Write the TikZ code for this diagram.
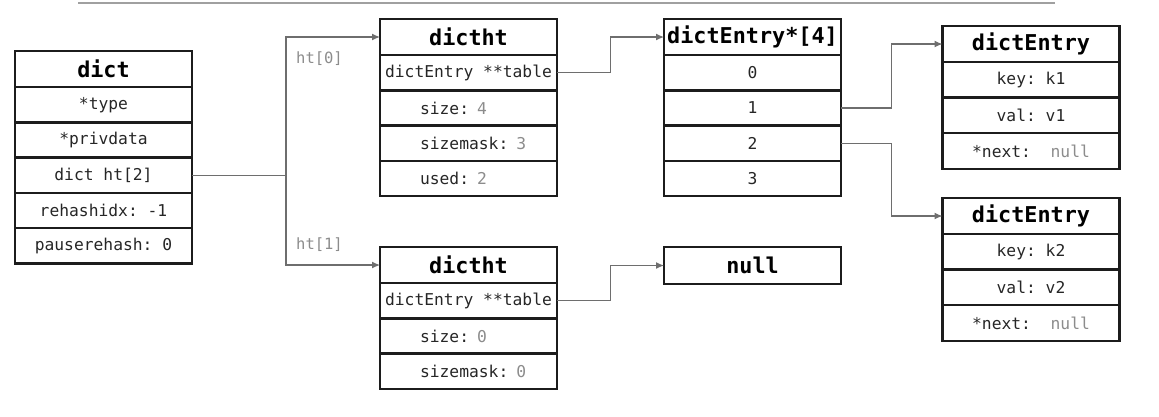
\documentclass[tikz,border=0pt]{standalone}
\usepackage{fontspec}
\setmainfont{DejaVu Sans Mono}
\setmonofont{DejaVu Sans Mono}
\usetikzlibrary{calc, positioning, arrows.meta}

\definecolor{inkBlack}{HTML}{1C1C1C}
\definecolor{rowInk}{HTML}{262626}
\definecolor{valGray}{HTML}{8C8C8C}
\definecolor{lineGray}{HTML}{6E6E6E}
\definecolor{ruleGray}{HTML}{A0A0A0}

\begin{document}
\begin{tikzpicture}[
			x=1pt, y=-1pt,
			font=\ttfamily,
			% Node styles
			cellNode/.style={rectangle, draw=inkBlack, line width=2.4pt, outer sep=0pt, inner sep=0pt, minimum width=177pt, minimum height=35.3pt, text=rowInk, font=\ttfamily\fontsize{16.3}{19}\selectfont},
			headNode/.style={cellNode, minimum height=36pt, text=black, font=\ttfamily\bfseries\fontsize{21.8}{24}\selectfont},
			leftCell/.style={cellNode, align=left, text width=137pt, inner xsep=20pt, execute at begin node={\hspace*{20pt}}},
			labelNode/.style={text=valGray, font=\ttfamily\fontsize{15.5}{18}\selectfont},
			% Line styles
			ptrLine/.style={draw=lineGray, line width=1.2pt, -{Latex[length=8pt, width=7pt]}},
			plainLine/.style={draw=lineGray, line width=1.2pt},
			topRule/.style={draw=ruleGray, line width=2.5pt}
			]
			
			\useasboundingbox (0,0) rectangle (1159,416);
			\draw[topRule] (78,3) -- (1055,3);
			
			% =========================================================
			% 1. THE DICT STRUCT
			% =========================================================
			
			\node[headNode, anchor=north] (dictHead) at (103.5, 51) {dict};
			\node[cellNode, below=0pt of dictHead] (dictType) {*type};
			\node[cellNode, below=0pt of dictType] (dictPriv) {*privdata};
			\node[cellNode, below=0pt of dictPriv] (dictHt) {dict ht[2]};
			\node[cellNode, below=0pt of dictHt] (dictRehash) {rehashidx: -1};
			\node[cellNode, below=0pt of dictRehash] (dictPause) {pauserehash: 0};
			
			% =========================================================
			% 2. THE TWO HASH TABLES (ht[0] and ht[1])
			% =========================================================
			
			% ht[0]
			\node[headNode, anchor=north] (htZeroHead) at (468.5, 19) {dictht};
			\node[cellNode, below=0pt of htZeroHead] (htZeroTable) {dictEntry **table};
			\node[leftCell, below=0pt of htZeroTable] (htZeroSize) {size: \textcolor{valGray}{4}};
			\node[leftCell, below=0pt of htZeroSize] (htZeroMask) {sizemask: \textcolor{valGray}{3}};
			\node[leftCell, below=0pt of htZeroMask] (htZeroUsed) {used: \textcolor{valGray}{2}};
			
			% ht[1]
			\node[headNode, anchor=north] (htOneHead) at (468.5, 247) {dictht};
			\node[cellNode, below=0pt of htOneHead] (htOneTable) {dictEntry **table};
			\node[leftCell, below=0pt of htOneTable] (htOneSize) {size: \textcolor{valGray}{0}};
			\node[leftCell, below=0pt of htOneSize] (htOneMask) {sizemask: \textcolor{valGray}{0}};
			
			% Fork from dict ht[2]
			\coordinate (htFork) at ([xshift=94pt]dictHt.east);
			\draw[plainLine] (dictHt.east) -- (htFork);
			\draw[ptrLine] (htFork) |- (htZeroHead.west);
			\draw[ptrLine] (htFork) |- (htOneHead.west);
			
			\node[labelNode] (htZeroLabel) at (319.5, 59) {ht[0]};
			\node[labelNode] (htOneLabel) at (319.5, 245) {ht[1]};
			
			% =========================================================
			% 3. BUCKET ARRAY AND NULL TABLE
			% =========================================================
			
			\node[headNode, anchor=north] (bucketHead) at (752.5, 19) {dictEntry*[4]};
			\node[cellNode, below=0pt of bucketHead] (bucketZero) {0};
			\node[cellNode, below=0pt of bucketZero] (bucketOne) {1};
			\node[cellNode, below=0pt of bucketOne] (bucketTwo) {2};
			\node[cellNode, below=0pt of bucketTwo] (bucketThree) {3};
			
			\node[headNode, minimum height=37pt] (nullNode) at (752.5, 265.5) {null};
			
			\draw[ptrLine] (htZeroTable.east) -| ($(htZeroTable.east)!0.5!(bucketHead.west)$) |- (bucketHead.west);
			\draw[ptrLine] (htOneTable.east) -| ($(htOneTable.east)!0.5!(nullNode.west)$) |- (nullNode.west);
			
			% =========================================================
			% 4. THE TWO ENTRIES
			% =========================================================
			
			\node[headNode, anchor=north] (entryOneHead) at (1031, 26) {dictEntry};
			\node[cellNode, minimum height=35.6pt, below=0pt of entryOneHead] (entryOneKey) {key: k1};
			\node[cellNode, minimum height=35.6pt, below=0pt of entryOneKey] (entryOneVal) {val: v1};
			\node[cellNode, minimum height=35.6pt, below=0pt of entryOneVal] (entryOneNext) {*next:\ \ \textcolor{valGray}{null}};
			
			\node[headNode, anchor=north] (entryTwoHead) at (1031, 198) {dictEntry};
			\node[cellNode, minimum height=35.6pt, below=0pt of entryTwoHead] (entryTwoKey) {key: k2};
			\node[cellNode, minimum height=35.6pt, below=0pt of entryTwoKey] (entryTwoVal) {val: v2};
			\node[cellNode, minimum height=35.6pt, below=0pt of entryTwoVal] (entryTwoNext) {*next:\ \ \textcolor{valGray}{null}};
			
			\draw[ptrLine] (bucketOne.east) -| ($(bucketOne.east)!0.5!(entryOneHead.west)$) |- (entryOneHead.west);
			\draw[ptrLine] (bucketTwo.east) -| ($(bucketTwo.east)!0.5!(entryTwoHead.west)$) |- (entryTwoHead.west);
			
		\end{tikzpicture}
\end{document}
